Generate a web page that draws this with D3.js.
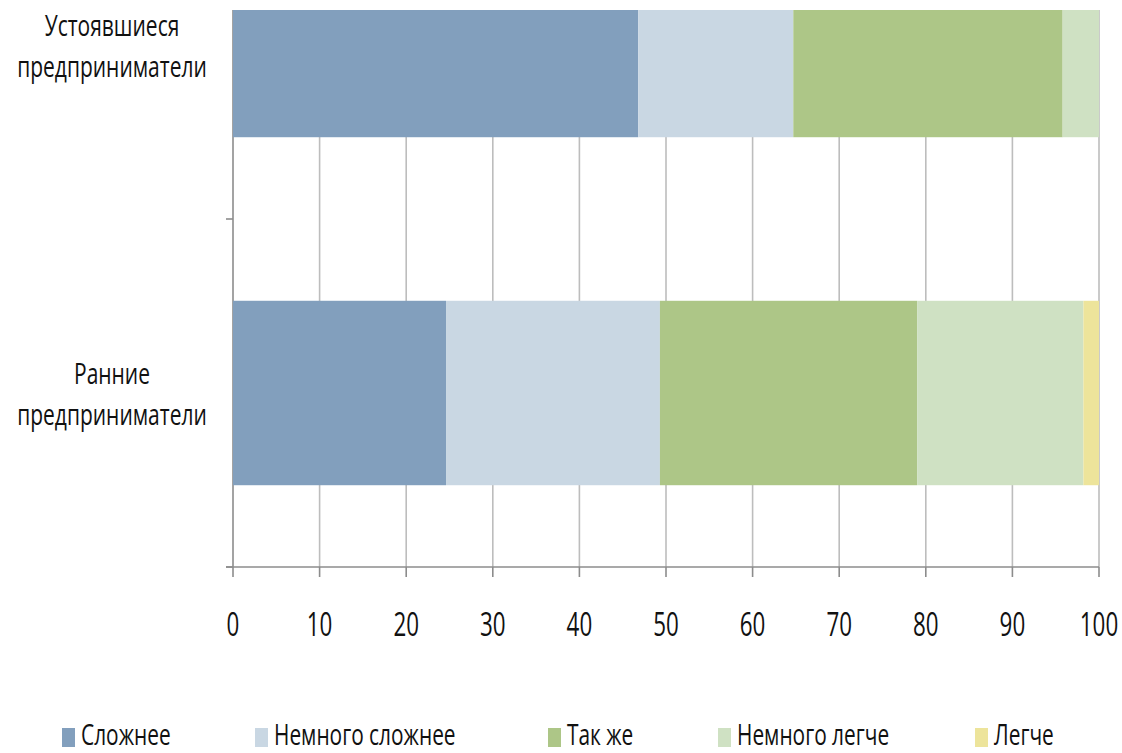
<!DOCTYPE html>
<html><head><meta charset="utf-8">
<script src="https://cdn.jsdelivr.net/npm/d3@7"></script>
<style>body{margin:0;background:#fff}svg{display:block}</style>
</head><body>
<svg id="c" width="1122" height="753"></svg>
<script>
const categories = ["Устоявшиеся предприниматели", "Ранние предприниматели"];
const categoryLines = [["Устоявшиеся", "предприниматели"], ["Ранние", "предприниматели"]];
const seriesNames = ["Сложнее", "Немного сложнее", "Так же", "Немного легче", "Легче"];
const seriesColors = ["#829FBD", "#C9D7E3", "#ADC687", "#CFE1C3", "#EDE49B"];
const valsSlozhnee = [46.8, 24.6];
const valsNemnogoSlozhnee = [17.9, 24.7];
const valsTakZhe = [31.1, 29.7];
const valsNemnogoLegche = [4.2, 19.2];
const valsLegche = [0, 1.8];
const xTicks = [0, 10, 20, 30, 40, 50, 60, 70, 80, 90, 100];

const seriesValues = [valsSlozhnee, valsNemnogoSlozhnee, valsTakZhe, valsNemnogoLegche, valsLegche];
const data = categories.map((c, i) => {
  const o = {cat: c};
  seriesNames.forEach((s, j) => o[s] = seriesValues[j][i]);
  return o;
});
const stacked = d3.stack().keys(seriesNames)(data);

const svg = d3.select("#c");
const FONT = "'Open Sans', sans-serif";
const SX = 0.7;

const x = d3.scaleLinear().domain([0, 100]).range([233, 1099]);
const y = d3.scaleBand().domain(categories).range([-129, 567]).padding(0);
const barFrac = 0.53;

svg.append("defs").append("clipPath").attr("id", "plotclip")
  .append("rect").attr("x", 200).attr("y", 10).attr("width", 922).attr("height", 600);

const plot = svg.append("g").attr("clip-path", "url(#plotclip)");

// gridlines
plot.append("g").selectAll("line").data(xTicks.slice(1)).join("line")
  .attr("x1", d => x(d)).attr("x2", d => x(d))
  .attr("y1", 10).attr("y2", 567)
  .attr("stroke", "#BDBDBD").attr("stroke-width", 1.6);

// y axis line + ticks
plot.append("line").attr("x1", x(0)).attr("x2", x(0)).attr("y1", 10).attr("y2", 567)
  .attr("stroke", "#8C8C8C").attr("stroke-width", 1.6);
const yTickPos = [y.range()[0]].concat(categories.map(c => y(c) + y.bandwidth()));
plot.append("g").selectAll("line").data(yTickPos).join("line")
  .attr("x1", x(0) - 7).attr("x2", x(0))
  .attr("y1", d => d).attr("y2", d => d)
  .attr("stroke", "#8C8C8C").attr("stroke-width", 1.6);

// bars
plot.append("g").selectAll("g").data(stacked).join("g")
  .attr("fill", (d, i) => seriesColors[i])
  .selectAll("rect").data(d => d).join("rect")
  .attr("x", d => x(d[0]))
  .attr("width", d => x(d[1]) - x(d[0]))
  .attr("y", d => y(d.data.cat) + y.bandwidth() * (1 - barFrac) / 2)
  .attr("height", y.bandwidth() * barFrac);

// x axis
const xg = svg.append("g");
xg.append("line").attr("x1", x(0) - 7).attr("x2", x(100)).attr("y1", 567).attr("y2", 567)
  .attr("stroke", "#8C8C8C").attr("stroke-width", 1.6);
xg.selectAll("line.t").data(xTicks).join("line").attr("class", "t")
  .attr("x1", d => x(d)).attr("x2", d => x(d)).attr("y1", 567).attr("y2", 577)
  .attr("stroke", "#8C8C8C").attr("stroke-width", 1.6);
xg.selectAll("text").data(xTicks).join("text")
  .attr("transform", d => `translate(${x(d)},636) scale(${SX},1)`)
  .attr("text-anchor", "middle")
  .attr("font-family", FONT).attr("font-size", 32).attr("fill", "#111")
  .text(d => d);

// category labels
const lab = svg.append("g");
categories.forEach((c, i) => {
  const cy = y(c) + y.bandwidth() / 2;
  categoryLines[i].forEach((t, k) => {
    lab.append("text")
      .attr("transform", `translate(112,${cy - 9 + k * 41}) scale(0.7,1)`)
      .attr("text-anchor", "middle")
      .attr("font-family", FONT).attr("font-size", 30).attr("fill", "#111")
      .text(t);
  });
});

// legend
const legX = [62, 255, 548, 718, 975];
const leg = svg.append("g");
seriesNames.forEach((s, i) => {
  leg.append("rect").attr("x", legX[i]).attr("y", 728).attr("width", 13).attr("height", 19)
    .attr("fill", seriesColors[i]);
  leg.append("text")
    .attr("transform", `translate(${legX[i] + 19},745) scale(0.72,1)`)
    .attr("font-family", FONT).attr("font-size", 29).attr("fill", "#111")
    .text(s);
});
</script>
</body></html>
